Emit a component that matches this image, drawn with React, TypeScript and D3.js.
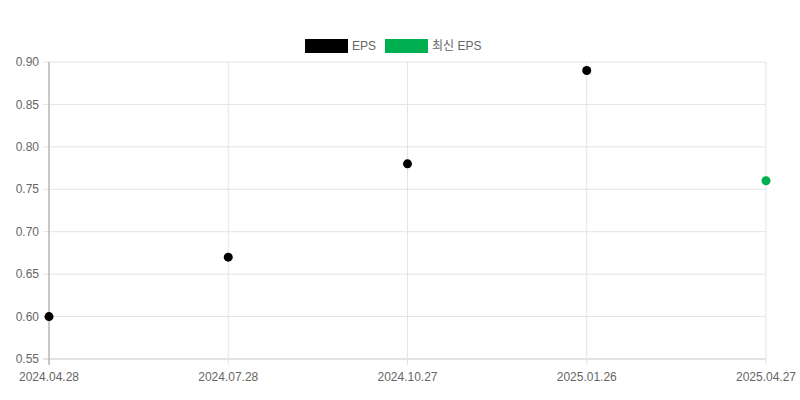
import * as d3 from "d3";

const dates = ["2024.04.28", "2024.07.28", "2024.10.27", "2025.01.26", "2025.04.27"];
const epsValues: (number | null)[] = [0.6, 0.67, 0.78, 0.89, null];
const latestEps: (number | null)[] = [null, null, null, null, 0.76];
const yTicks = [0.55, 0.6, 0.65, 0.7, 0.75, 0.8, 0.85, 0.9];

const seriesList = [
  { name: "EPS", color: "#000000", values: epsValues },
  { name: "최신 EPS", color: "#00b050", values: latestEps },
];

const font = "'Liberation Sans', Arial, 'Noto Sans CJK KR', sans-serif";

export default function App() {
  const width = 800;
  const height = 400;
  const marginTop = 62;
  const marginRight = 34;
  const marginBottom = 41;
  const marginLeft = 49;

  const x = d3
    .scalePoint<string>()
    .domain(dates)
    .range([marginLeft, width - marginRight]);

  const y = d3
    .scaleLinear()
    .domain([0.55, 0.9])
    .range([height - marginBottom, marginTop]);

  const legendX = [305, 385];

  return (
    <svg
      width={width}
      height={height}
      style={{ position: "absolute", left: 0, top: 0, fontFamily: font }}
    >
      <rect width={width} height={height} fill="#fff" />
      {/* horizontal grid */}
      {yTicks.map((t) => (
        <g key={t}>
          <line
            x1={marginLeft - 6}
            x2={width - marginRight}
            y1={y(t)}
            y2={y(t)}
            stroke={t === 0.55 ? "#c8c8c8" : "#e4e4e4"}
          />
          <text
            x={marginLeft - 10}
            y={y(t)}
            dy="0.35em"
            textAnchor="end"
            fontSize={12}
            fill="#666"
          >
            {t.toFixed(2)}
          </text>
        </g>
      ))}
      {/* vertical grid */}
      {dates.map((d) => (
        <g key={d}>
          <line
            x1={x(d)!}
            x2={x(d)!}
            y1={marginTop}
            y2={height - marginBottom + 6}
            stroke="#e4e4e4"
          />
          <text
            x={x(d)!}
            y={height - marginBottom + 22}
            textAnchor="middle"
            fontSize={12}
            fill="#666"
          >
            {d}
          </text>
        </g>
      ))}
      {/* left axis line */}
      <line
        x1={marginLeft}
        x2={marginLeft}
        y1={marginTop}
        y2={height - marginBottom + 6}
        stroke="#a0a0a0"
      />
      {/* points */}
      {seriesList.map((s) =>
        s.values.map((v, i) =>
          v == null ? null : (
            <circle
              key={s.name + i}
              cx={x(dates[i])!}
              cy={y(v)}
              r={4.5}
              fill={s.color}
            />
          )
        )
      )}
      {/* legend */}
      {seriesList.map((s, i) => (
        <g key={s.name} transform={`translate(${legendX[i]},39)`}>
          <rect width={43} height={14} fill={s.color} />
          <text x={47} y={7} dy="0.35em" fontSize={12} fill="#666">
            {s.name}
          </text>
        </g>
      ))}
    </svg>
  );
}
